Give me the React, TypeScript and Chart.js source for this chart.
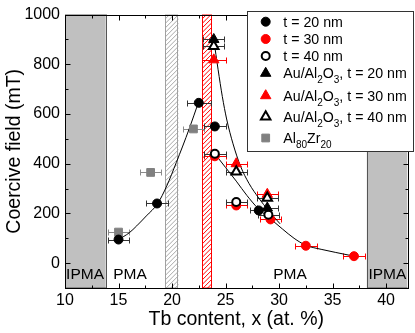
import React, { useEffect, useRef } from "react";
import { Chart, registerables } from "chart.js";
Chart.register(...registerables);

const FONT = "'Liberation Sans', Arial, Helvetica, sans-serif";

// ---- axes ----
const xTickValues = [10, 15, 20, 25, 30, 35, 40];
const xMinorValues = [12.5, 17.5, 22.5, 27.5, 32.5, 37.5];
const yTickValues = [0, 200, 400, 600, 800, 1000];
const yMinorValues = [100, 300, 500, 700, 900];
const xRange = [10, 42];
const yRange = [-100, 1000];

// ---- series (Tb content x, coercive field mT, x error) ----
const t20X = [15.0, 18.6, 22.5, 24.0, 28.1];
const t20Y = [95, 240, 645, 550, 212];
const t20Err = [1.0, 1.0, 1.1, 1.0, 0.8];

const t30X = [24.0, 26.0, 29.2, 32.5, 37.0];
const t30Y = [430, 232, 176, 70, 28];
const t30Err = [1.0, 1.0, 1.0, 1.0, 1.0];

const t40X = [24.0, 26.0, 29.0];
const t40Y = [440, 246, 195];
const t40Err = [1.0, 1.0, 1.0];

const au20X = [23.9, 28.9];
const au20Y = [900, 222];
const au20Err = [1.0, 1.0];

const au30X = [23.9, 26.0, 28.9];
const au30Y = [818, 400, 277];
const au30Err = [1.1, 1.0, 1.0];

const au40X = [23.9, 26.0, 28.9];
const au40Y = [873, 368, 262];
const au40Err = [1.0, 1.0, 1.0];

const alzrX = [15.0, 18.0, 22.0];
const alzrY = [125, 365, 540];
const alzrErr = [1.0, 1.0, 1.0];

// ---- fitted guide curves ----
const fitRiseX = [15.0, 16.0, 16.7, 17.6, 18.66, 19.5, 20.4, 21.6, 22.46];
const fitRiseY = [95, 122, 150, 190, 240, 310, 405, 540, 646];
const fitTriX = [23.9, 24.3, 24.7, 25.1, 25.7, 26.4, 27.2, 28.1, 29.0, 30.1];
const fitTriY = [900, 780, 670, 580, 480, 390, 320, 262, 212, 158];
const fitCircX = [24.0, 25.0, 26.0, 27.0, 28.0, 29.2, 30.3, 31.4, 32.5, 34.0, 35.3, 37.0];
const fitCircY = [440, 385, 330, 272, 222, 178, 138, 100, 72, 55, 43, 28];

// ---- regions ----
const ipmaBands = [
  [10, 13.8],
  [38.2, 42],
];
const grayHatchBand = [19.35, 20.6];
const redHatchBand = [22.8, 23.7];
const regionLabels = ["IPMA", "PMA", "PMA", "IPMA"];
const regionLabelX = [10.1, 14.5, 29.45, 38.35];
const regionLabelY = -63;

// ---- legend ----
type Part = [string, boolean];
const legendLabels: Part[][] = [
  [["t = 20 nm", false]],
  [["t = 30 nm", false]],
  [["t = 40 nm", false]],
  [["Au/Al", false], ["2", true], ["O", false], ["3", true], [", t = 20 nm", false]],
  [["Au/Al", false], ["2", true], ["O", false], ["3", true], [", t = 30 nm", false]],
  [["Au/Al", false], ["2", true], ["O", false], ["3", true], [", t = 40 nm", false]],
  [["Al", false], ["80", true], ["Zr", false], ["20", true]],
];

const RED = "#ff0000";
const GRAY = "#808080";

const pts = (xs: number[], ys: number[]) => xs.map((x, i) => ({ x, y: ys[i] }));

type MarkerStyle = { shape: string; fill: string; stroke: string; lw: number; r: number };
const markerStyles: MarkerStyle[] = [
  { shape: "circle", fill: "#000", stroke: "#000", lw: 1, r: 4.5 },
  { shape: "circle", fill: RED, stroke: RED, lw: 1, r: 4.5 },
  { shape: "circle", fill: "#fff", stroke: "#000", lw: 2, r: 4 },
  { shape: "triangle", fill: "#000", stroke: "#000", lw: 1, r: 6 },
  { shape: "triangle", fill: RED, stroke: RED, lw: 1, r: 6 },
  { shape: "triangle", fill: "#fff", stroke: "#000", lw: 2, r: 5.5 },
  { shape: "rect", fill: GRAY, stroke: GRAY, lw: 1, r: 5.5 },
];

function drawMarker(ctx: CanvasRenderingContext2D, m: MarkerStyle, x: number, y: number) {
  ctx.save();
  ctx.fillStyle = m.fill;
  ctx.strokeStyle = m.stroke;
  ctx.lineWidth = m.lw;
  ctx.beginPath();
  if (m.shape === "circle") {
    ctx.arc(x, y, m.r, 0, Math.PI * 2);
  } else if (m.shape === "triangle") {
    const r = m.r;
    ctx.moveTo(x, y - r);
    ctx.lineTo(x + r * Math.cos(Math.PI / 6), y + r / 2);
    ctx.lineTo(x - r * Math.cos(Math.PI / 6), y + r / 2);
    ctx.closePath();
  } else {
    const s = m.r * Math.SQRT1_2;
    ctx.rect(x - s, y - s, 2 * s, 2 * s);
  }
  ctx.fill();
  ctx.stroke();
  ctx.restore();
}

function hatch(ctx: CanvasRenderingContext2D, p0: number, p1: number, top: number, bottom: number, color: string, edge: string) {
  ctx.save();
  ctx.fillStyle = "#fff";
  ctx.fillRect(p0, top, p1 - p0, bottom - top);
  ctx.beginPath();
  ctx.rect(p0, top, p1 - p0, bottom - top);
  ctx.clip();
  ctx.strokeStyle = color;
  ctx.lineWidth = 1;
  ctx.beginPath();
  const h = bottom - top;
  for (let s = p0 - h; s < p1 + 5; s += 4.5) {
    ctx.moveTo(s, bottom);
    ctx.lineTo(s + h, top);
  }
  ctx.stroke();
  ctx.restore();
  ctx.save();
  ctx.strokeStyle = edge;
  ctx.lineWidth = 1;
  ctx.strokeRect(Math.round(p0) + 0.5, top, Math.round(p1 - p0) - 1, bottom - top);
  ctx.restore();
}

const errSets: { xs: number[]; ys: number[]; err: number[]; color: string }[] = [
  { xs: alzrX, ys: alzrY, err: alzrErr, color: "#8a8a8a" },
  { xs: t30X, ys: t30Y, err: t30Err, color: RED },
  { xs: au30X, ys: au30Y, err: au30Err, color: RED },
  { xs: t20X, ys: t20Y, err: t20Err, color: "#333" },
  { xs: t40X, ys: t40Y, err: t40Err, color: "#333" },
  { xs: au20X, ys: au20Y, err: au20Err, color: "#333" },
  { xs: au40X, ys: au40Y, err: au40Err, color: "#333" },
];

const decor = {
  id: "decor",
  beforeDatasetsDraw(chart: any) {
    const { ctx, chartArea: a, scales } = chart;
    const xs = scales.x;
    const ys = scales.y;
    ctx.save();
    ctx.beginPath();
    ctx.rect(a.left, a.top, a.right - a.left, a.bottom - a.top);
    ctx.clip();
    for (const [x0, x1] of ipmaBands) {
      const p0 = xs.getPixelForValue(x0);
      const p1 = xs.getPixelForValue(x1);
      ctx.fillStyle = "#c0c0c0";
      ctx.fillRect(p0, a.top, p1 - p0, a.bottom - a.top);
      ctx.strokeStyle = "#555";
      ctx.lineWidth = 1;
      ctx.strokeRect(Math.round(p0) + 0.5, a.top, Math.round(p1 - p0), a.bottom - a.top);
    }
    hatch(ctx, xs.getPixelForValue(grayHatchBand[0]), xs.getPixelForValue(grayHatchBand[1]), a.top, a.bottom, "#a8a8a8", "#a0a0a0");
    hatch(ctx, xs.getPixelForValue(redHatchBand[0]), xs.getPixelForValue(redHatchBand[1]), a.top, a.bottom, RED, RED);

    ctx.fillStyle = "#000";
    ctx.font = `15.5px ${FONT}`;
    ctx.textAlign = "left";
    ctx.textBaseline = "alphabetic";
    regionLabels.forEach((t, i) => {
      ctx.fillText(t, xs.getPixelForValue(regionLabelX[i]), ys.getPixelForValue(regionLabelY));
    });

    // error bars
    for (const s of errSets) {
      ctx.strokeStyle = s.color;
      ctx.lineWidth = 1;
      s.xs.forEach((x, i) => {
        const py = Math.round(ys.getPixelForValue(s.ys[i])) + 0.5;
        const pa = Math.round(xs.getPixelForValue(x - s.err[i])) + 0.5;
        const pb = Math.round(xs.getPixelForValue(x + s.err[i])) + 0.5;
        ctx.beginPath();
        ctx.moveTo(pa, py);
        ctx.lineTo(pb, py);
        ctx.moveTo(pa, py - 3);
        ctx.lineTo(pa, py + 3);
        ctx.moveTo(pb, py - 3);
        ctx.lineTo(pb, py + 3);
        ctx.stroke();
      });
    }
    ctx.restore();
  },
  afterDatasetsDraw(chart: any) {
    const { ctx, chartArea: a, scales } = chart;
    const xs = scales.x;
    const ys = scales.y;
    ctx.save();
    ctx.strokeStyle = "#000";
    ctx.lineWidth = 1;
    const L = Math.round(a.left) + 0.5;
    const R = Math.round(a.right) + 0.5;
    const T = Math.round(a.top) + 0.5;
    const B = Math.round(a.bottom) + 0.5;
    ctx.beginPath();
    const tickX = (v: number, len: number) => {
      const p = Math.round(xs.getPixelForValue(v)) + 0.5;
      ctx.moveTo(p, B);
      ctx.lineTo(p, B - len);
      ctx.moveTo(p, T);
      ctx.lineTo(p, T + len);
    };
    const tickY = (v: number, len: number) => {
      const p = Math.round(ys.getPixelForValue(v)) + 0.5;
      ctx.moveTo(L, p);
      ctx.lineTo(L + len, p);
      ctx.moveTo(R, p);
      ctx.lineTo(R - len, p);
    };
    xTickValues.forEach((v) => v > xRange[0] && tickX(v, 5));
    xMinorValues.forEach((v) => tickX(v, 3));
    yTickValues.forEach((v) => v < yRange[1] && tickY(v, 5));
    yMinorValues.forEach((v) => tickY(v, 3));
    ctx.stroke();
    ctx.strokeRect(L, T, R - L, B - T);

    // axis titles
    ctx.fillStyle = "#000";
    ctx.font = `19.5px ${FONT}`;
    ctx.textAlign = "center";
    ctx.textBaseline = "alphabetic";
    ctx.fillText("Tb content, x (at. %)", (a.left + a.right) / 2, 325);
    ctx.save();
    ctx.translate(20, (a.top + a.bottom) / 2);
    ctx.rotate(-Math.PI / 2);
    ctx.fillText("Coercive field (mT)", 0, 0);
    ctx.restore();

    // legend
    const lx0 = 247.5, ly0 = 11.5, lx1 = 413.5, ly1 = 151.5;
    ctx.fillStyle = "#fff";
    ctx.fillRect(lx0, ly0, lx1 - lx0, ly1 - ly0);
    ctx.strokeStyle = "#333";
    ctx.strokeRect(lx0, ly0, lx1 - lx0, ly1 - ly0);
    const rowY = [21.7, 39, 56, 73.3, 95.7, 116.7, 138];
    legendLabels.forEach((parts, i) => {
      drawMarker(ctx, markerStyles[i], 265.7, rowY[i]);
      let tx = 283.3;
      const base = rowY[i] + 5;
      ctx.textAlign = "left";
      ctx.fillStyle = "#000";
      for (const [txt, sub] of parts) {
        ctx.font = sub ? `10px ${FONT}` : `14.2px ${FONT}`;
        ctx.fillText(txt, tx, sub ? base + 5 : base);
        tx += ctx.measureText(txt).width;
      }
    });
    ctx.restore();
  },
};

export default function App() {
  const ref = useRef<HTMLCanvasElement | null>(null);
  useEffect(() => {
    const canvas = ref.current;
    if (!canvas) return;
    const curve = (xs: number[], ys: number[]) => ({
      data: pts(xs, ys),
      showLine: true,
      borderColor: "#000",
      borderWidth: 1,
      pointRadius: 0,
      cubicInterpolationMode: "monotone" as const,
      order: 100,
    });
    const marker = (xs: number[], ys: number[], m: MarkerStyle, order: number) => ({
      data: pts(xs, ys),
      pointStyle: m.shape,
      pointRadius: m.r,
      backgroundColor: m.fill,
      borderColor: m.stroke,
      borderWidth: m.lw,
      showLine: false,
      order,
    });
    const chart = new Chart(canvas, {
      type: "scatter",
      data: {
        datasets: [
          curve(fitRiseX, fitRiseY),
          curve(fitTriX, fitTriY),
          curve(fitCircX, fitCircY),
          marker(alzrX, alzrY, markerStyles[6], 9),
          marker(t30X, t30Y, markerStyles[1], 8),
          marker(au30X, au30Y, markerStyles[4], 7),
          marker(t20X, t20Y, markerStyles[0], 6),
          marker(au40X, au40Y, markerStyles[5], 5),
          marker(t40X, t40Y, markerStyles[2], 4),
          marker(au20X, au20Y, markerStyles[3], 3),
        ] as any,
      },
      options: {
        animation: false,
        responsive: false,
        events: [],
        layout: { padding: { left: 0, right: 6, top: 11, bottom: 0 } },
        plugins: { legend: { display: false }, tooltip: { enabled: false } },
        scales: {
          x: {
            type: "linear",
            min: xRange[0],
            max: xRange[1],
            afterBuildTicks: (s: any) => {
              s.ticks = xTickValues.map((v) => ({ value: v }));
            },
            afterFit: (s: any) => {
              s.height = 45;
            },
            grid: { display: false, drawTicks: false },
            border: { display: false },
            ticks: {
              font: { family: FONT, size: 16 },
              color: "#000",
              padding: 3,
              maxRotation: 0,
              autoSkip: false,
              callback: (v: any) => String(v),
            },
          },
          y: {
            type: "linear",
            min: yRange[0],
            max: yRange[1],
            afterBuildTicks: (s: any) => {
              s.ticks = yTickValues.map((v) => ({ value: v }));
            },
            afterFit: (s: any) => {
              s.width = 65;
            },
            grid: { display: false, drawTicks: false },
            border: { display: false },
            ticks: {
              font: { family: FONT, size: 16 },
              color: "#000",
              padding: 5,
              autoSkip: false,
              callback: (v: any) => String(v),
            },
          },
        },
      } as any,
      plugins: [decor],
    });
    return () => chart.destroy();
  }, []);
  return (
    <div style={{ position: "absolute", left: 0, top: 0, width: 415, height: 333, background: "#fff" }}>
      <canvas ref={ref} width={415} height={333} style={{ width: 415, height: 333, display: "block" }} />
    </div>
  );
}
